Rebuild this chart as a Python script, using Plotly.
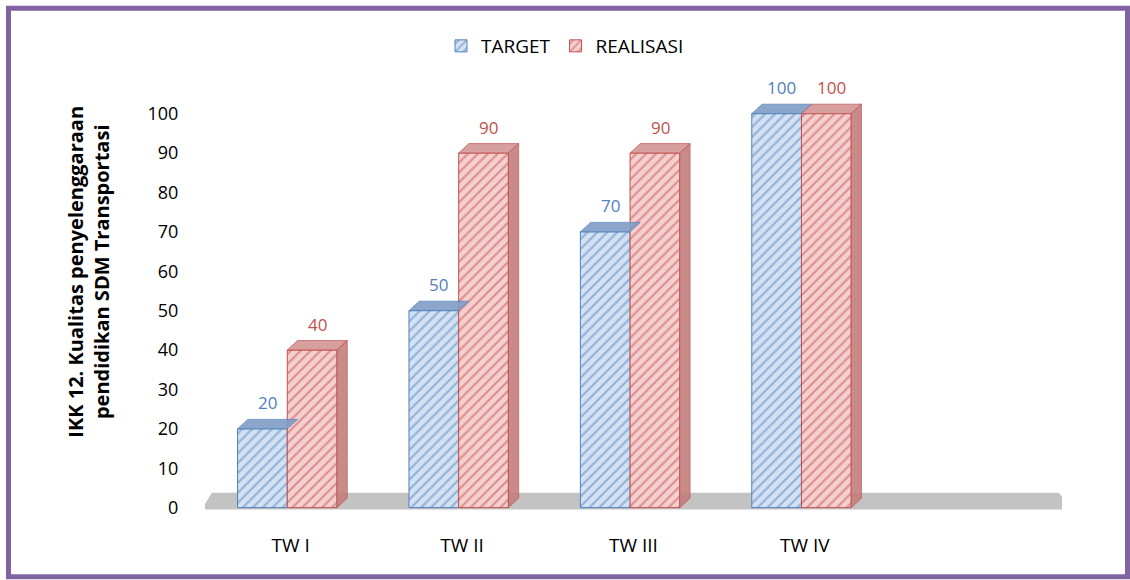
import plotly.graph_objects as go

categories = ["TW I", "TW II", "TW III", "TW IV", ""]
target = [20, 50, 70, 100]
realisasi = [40, 90, 90, 100]
y_ticks = [0, 10, 20, 30, 40, 50, 60, 70, 80, 90, 100]
series_names = ["TARGET", "REALISASI"]
y_title = "IKK 12. Kualitas penyelenggaraan<br>pendidikan SDM Transportasi"

FONT = "'Open Sans', sans-serif"
BLUE_LINE = "#4F81BD"
BLUE_BG = "#D3E1F3"
BLUE_TOP = "#7F9CC6"
RED_LINE = "#C0504D"
RED_BG = "#F6CFCF"
RED_TOP = "#D39593"
RED_SIDE = "#C47F7E"

W = 0.29        # bar width (category units)
OFF = -0.31     # offset of first bar
DX = 0.06       # 3D depth, x (category units)
DY = 2.4        # 3D depth, y (value units)

Y_MIN, Y_MAX = -0.6, 106

fig = go.Figure()
fig.add_trace(go.Bar(
    x=categories[:len(target)], y=target, name=series_names[0],
    width=W, offset=OFF,
    marker=dict(color=BLUE_BG, line=dict(color=BLUE_LINE, width=1),
                pattern=dict(shape="/", fgcolor=BLUE_LINE, bgcolor=BLUE_BG, size=7, solidity=0.3)),
))
fig.add_trace(go.Bar(
    x=categories[:len(realisasi)], y=realisasi, name=series_names[1],
    width=W, offset=OFF + W,
    marker=dict(color=RED_BG, line=dict(color=RED_LINE, width=1),
                pattern=dict(shape="/", fgcolor=RED_LINE, bgcolor=RED_BG, size=7, solidity=0.3)),
))
# invisible trace to keep the empty 5th category slot
fig.add_trace(go.Scatter(x=categories, y=[None] * len(categories), showlegend=False, hoverinfo="skip"))

shapes = []
# floor
shapes.append(dict(type="path", xref="x", yref="y", layer="below",
                   path="M -0.52,-0.5 L 4.57,-0.5 L 4.48,3.8 L -0.46,3.8 Z",
                   fillcolor="#C3C3C3", line=dict(width=0)))

annotations = []
for vals, top_c, line_c, k in [(target, BLUE_TOP, BLUE_LINE, 0), (realisasi, RED_TOP, RED_LINE, 1)]:
    for i, v in enumerate(vals):
        x0 = i + OFF + k * W
        x1 = x0 + W
        shapes.append(dict(type="path", xref="x", yref="y",
                           path=f"M {x0},{v} L {x1},{v} L {x1+DX},{v+DY} L {x0+DX},{v+DY} Z",
                           fillcolor=top_c, line=dict(color=line_c, width=0.8), opacity=0.9))
        if k == 1:
            shapes.append(dict(type="path", xref="x", yref="y",
                               path=f"M {x1},0 L {x1},{v} L {x1+DX},{v+DY} L {x1+DX},{DY} Z",
                               fillcolor=RED_SIDE, line=dict(color=line_c, width=0.8), opacity=0.9))
        annotations.append(dict(x=(x0 + x1) / 2 + DX / 2, y=v + DY, xref="x", yref="y",
                                text=str(v), showarrow=False, yanchor="bottom", yshift=3,
                                font=dict(family=FONT, size=17, color=line_c)))

# pixel geometry of the plot area
PPU = (508 - 114) / 100.0
L, R = 205, 1062
T = 114 - (Y_MAX - 100) * PPU
B = 508 - Y_MIN * PPU


def px(x):
    return (x - L) / (R - L)


def py(y):
    return (B - y) / (B - T)


# y axis title
annotations.append(dict(x=px(89), y=py(272), xref="paper", yref="paper",
                        text=f"<b>{y_title}</b>", showarrow=False, textangle=-90,
                        xanchor="center", yanchor="middle",
                        font=dict(family=FONT, size=20, color="black")))

# border
shapes.append(dict(type="rect", xref="paper", yref="paper",
                   x0=px(8.5), x1=px(1127.5), y0=py(577), y1=py(8.5),
                   line=dict(color="#8064A2", width=5), fillcolor="rgba(0,0,0,0)"))

fig.update_layout(
    width=1130, height=580,
    margin=dict(l=L, r=1130 - R, t=T, b=580 - B, autoexpand=False),
    paper_bgcolor="white", plot_bgcolor="white",
    barmode="overlay",
    font=dict(family=FONT, size=18, color="black"),
    shapes=shapes, annotations=annotations,
    legend=dict(orientation="h", xref="container", yref="container",
                x=0.5, y=1 - 46 / 580, xanchor="center", yanchor="middle",
                font=dict(family=FONT, size=19, color="black"),
                itemwidth=30),
    xaxis=dict(type="category", range=[-0.5, 4.5], showgrid=False, showline=False,
               zeroline=False, ticks="outside", ticklen=18, tickcolor="rgba(0,0,0,0)",
               tickfont=dict(family=FONT, size=19)),
    yaxis=dict(range=[Y_MIN, Y_MAX], tickvals=y_ticks, showgrid=False, showline=False,
               zeroline=False, ticks="outside", ticklen=22, tickcolor="rgba(0,0,0,0)",
               tickfont=dict(family=FONT, size=18)),
)

fig.write_html("out.html", config={"displayModeBar": False},
               post_script="document.body.style.margin='0px';document.body.style.overflow='hidden';")
